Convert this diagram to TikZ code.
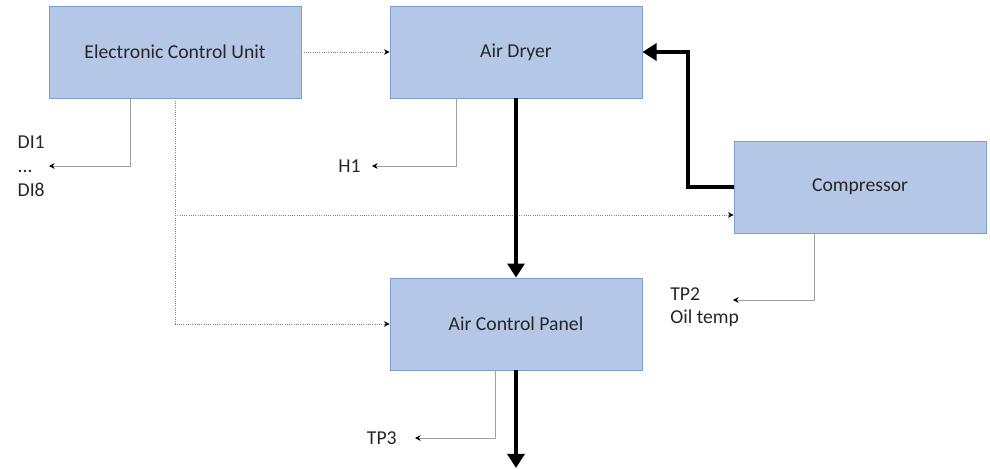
\documentclass[tikz,border=0pt]{standalone}
\usepackage{fontspec}
\setmainfont{Carlito}
\usepackage{tikz}
\usetikzlibrary{positioning}
\usetikzlibrary{arrows.meta}
\usepackage{xcolor}
\definecolor{boxfill}{HTML}{B4C7E7}
\definecolor{boxline}{HTML}{7F9DD4}
\definecolor{wire}{HTML}{A0A0A0}
\definecolor{dots}{HTML}{808080}

\tikzset{
    unit/.style={draw=boxline, fill=boxfill, line width=0.6pt, minimum width=6.3cm, minimum height=2.3cm, font=\fontsize{14}{17}\selectfont, text=black!85},
    lbl/.style={font=\fontsize{14}{17}\selectfont, text=black!85, inner sep=0pt, align=left},
    sig/.style={draw=wire, line width=0.6pt, -{Stealth[length=4pt,width=4pt,black]}},
    ctl/.style={draw=dots, line width=0.6pt, densely dotted, -{Stealth[length=4pt,width=4pt,black]}},
    flow/.style={line width=3.5pt, -{Triangle[length=10pt,width=12pt]}}
}

\begin{document}
\begin{tikzpicture}[x=0.025cm, y=-0.025cm]
            \useasboundingbox (0,0) rectangle (990,468);

            % Blocks
            \node[unit] (ecu) at (175,52) {Electronic Control Unit};
            \node[unit] (dryer) at (516,52) {Air Dryer};
            \node[unit] (comp) at (860,187) {Compressor};
            \node[unit] (acp) at (516,324) {Air Control Panel};

            % Arrow ends and labels
            \coordinate (diend) at (49,166);
            \coordinate (h1end) at (372,166);
            \coordinate (tp2end) at (733,300);
            \coordinate (tp3end) at (415,438);
            \node[lbl, left=0.1cm of diend] (di) {DI1\\...\\DI8};
            \node[lbl, left=0.28cm of h1end] (h1) {H1};
            \node[lbl, anchor=north west] (tp2) at (670,287) {TP2\\Oil temp};
            \node[lbl, left=0.45cm of tp3end] (tp3) {TP3};

            % Signal lines (grey)
            \draw[sig] (ecu.south -| 130,0) |- (diend);
            \draw[sig] (dryer.south -| 456,0) |- (h1end);
            \draw[sig] (comp.south -| 814,0) |- (tp2end);
            \draw[sig] (acp.south -| 495,0) |- (tp3end);

            % Control lines (dotted)
            \coordinate (branch) at (175,215);
            \draw[ctl] (ecu.east) -- (dryer.west);
            \draw[ctl] (ecu.south) |- (acp.west);
            \draw[ctl] (branch) -- (comp.west |- branch);

            % Air flow (thick)
            \draw[flow] (comp.west) -| (688,120) |- (dryer.east);
            \draw[flow] (dryer.south) -- (acp.north);
            \draw[flow] (acp.south) -- (516,468);

        \end{tikzpicture}
\end{document}
